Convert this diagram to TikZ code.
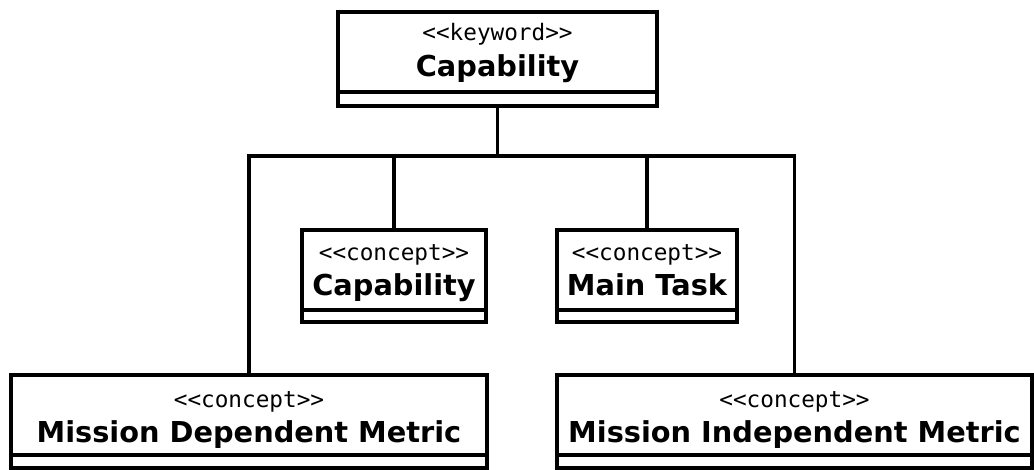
\documentclass[tikz,border=0pt]{standalone}
\usepackage{fontspec}
\setmainfont{DejaVu Sans}
\newfontfamily\stereofont{DejaVu Sans Mono}
\begin{document}
\begin{tikzpicture}[x=1pt,y=-1pt,
  umlbox/.style={draw=black,line width=3.6pt,fill=white,rectangle,inner sep=0pt},
  stereo/.style={inner sep=0pt,anchor=base,font=\stereofont\fontsize{22.7}{26}\selectfont},
  cname/.style={inner sep=0pt,anchor=base,font=\bfseries\fontsize{28.8}{34}\selectfont},
  link/.style={draw=black,line width=3.6pt}]
\useasboundingbox (0,0) rectangle (1034,470);
% boxes
\node[umlbox,minimum width=319pt,minimum height=94pt] (top) at (497.5,59) {};
\node[umlbox,minimum width=184pt,minimum height=92pt] (m1) at (394,276) {};
\node[umlbox,minimum width=180pt,minimum height=92pt] (m2) at (647,276) {};
\node[umlbox,minimum width=476pt,minimum height=93pt] (bl) at (249,421.5) {};
\node[umlbox,minimum width=475pt,minimum height=93pt] (br) at (794.5,421.5) {};
% separators
\coordinate (topsepL) at (338,92); \coordinate (topsepR) at (657,92);
\draw[link] (topsepL) -- (topsepR);
\coordinate (m1sepL) at (302,310); \coordinate (m1sepR) at (486,310);
\draw[link] (m1sepL) -- (m1sepR);
\coordinate (m2sepL) at (557,310); \coordinate (m2sepR) at (737,310);
\draw[link] (m2sepL) -- (m2sepR);
\coordinate (blsepL) at (11,455); \coordinate (blsepR) at (487,455);
\draw[link] (blsepL) -- (blsepR);
\coordinate (brsepL) at (557,455); \coordinate (brsepR) at (1032,455);
\draw[link] (brsepL) -- (brsepR);
% texts
\node[stereo] (tops) at (497.5,41) {<<keyword>>};
\node[cname] (topn) at (497.5,77) {Capability};
\node[stereo] (m1s) at (394,261) {<<concept>>};
\node[cname] (m1n) at (394,296) {Capability};
\node[stereo] (m2s) at (647,261) {<<concept>>};
\node[cname] (m2n) at (647,296) {Main Task};
\node[stereo] (bls) at (249,407) {<<concept>>};
\node[cname] (bln) at (249,442) {Mission Dependent Metric};
\node[stereo] (brs) at (794.5,407) {<<concept>>};
\node[cname] (brn) at (794.5,442) {Mission Independent Metric};
% connectors
\coordinate (j) at (497.5,156);
\draw[link] (top.south) -- (j);
\draw[link,line join=miter] (bl.north) |- (j) -| (br.north);
\draw[link] (m1.north) -- (m1.north |- j);
\draw[link] (m2.north) -- (m2.north |- j);
\end{tikzpicture}
\end{document}
